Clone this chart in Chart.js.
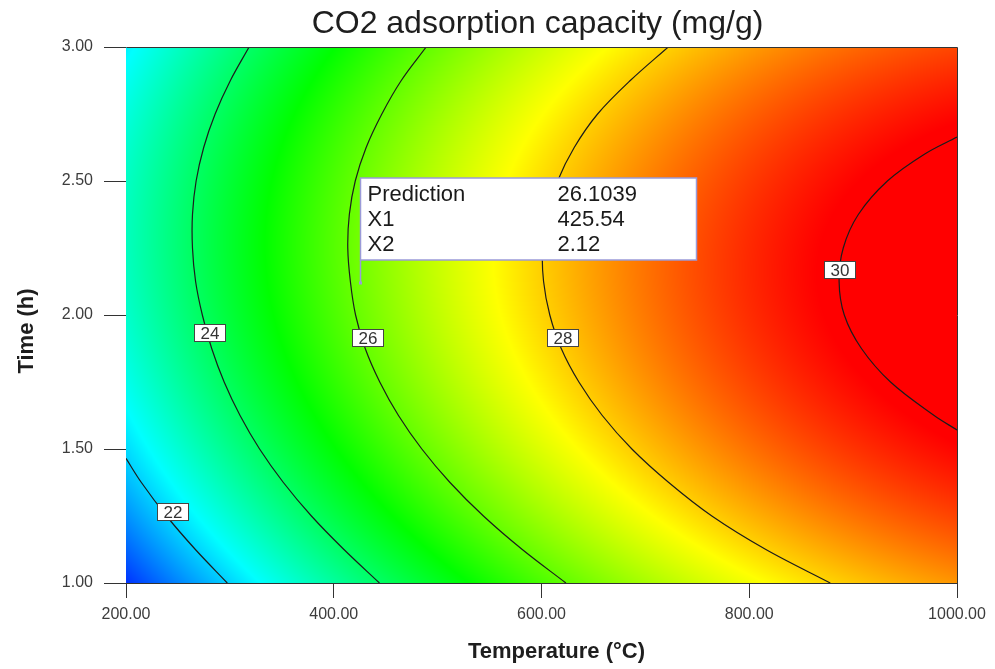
<!DOCTYPE html>
<html>
<head>
<meta charset="utf-8">
<title>CO2 adsorption capacity contour</title>
<script src="https://cdn.jsdelivr.net/npm/chart.js@4.4.1/dist/chart.umd.min.js"></script>
<style>
  html, body { margin: 0; padding: 0; background: #ffffff; }
  #wrap { width: 995px; height: 669px; }
</style>
</head>
<body>
<div id="wrap"><canvas id="contour" width="995" height="669"></canvas></div>
<script>
// ---- Data -----------------------------------------------------------------
// Axis ticks: temperature (°C) and time (h)
const temperatureTicks = [200, 400, 600, 800, 1000];
const timeTicks = [1.00, 1.50, 2.00, 2.50, 3.00];

// Predicted CO2 adsorption capacity (mg/g) at each temperature tick, one row per time tick
const capacityAt1_0h = [20.48, 23.42, 25.74, 27.44, 28.52];
const capacityAt1_5h = [22.10, 24.97, 27.22, 28.85, 29.86];
const capacityAt2_0h = [22.95, 25.75, 27.93, 29.49, 30.43];
const capacityAt2_5h = [23.02, 25.75, 27.86, 29.36, 30.23];
const capacityAt3_0h = [22.32, 24.98, 27.02, 28.45, 29.25];

// Contour levels and their traced paths as [temperature, time]
const contourLevels = [22, 24, 26, 28, 30];
const contour22 = [[200, 1.465], [214.8, 1.375], [239, 1.25], [266.8, 1.125], [297.5, 1.0]];
const contour24 = [[318.5, 3.0], [300.5, 2.875], [285.8, 2.75], [274.8, 2.625], [267.5, 2.5], [264, 2.375],
                   [264, 2.25], [267, 2.125], [273.5, 2.0], [282.5, 1.875], [294.5, 1.75], [309.8, 1.625],
                   [328.6, 1.5], [351.5, 1.375], [378.5, 1.25], [409.8, 1.125], [444, 1.0]];
const contour26 = [[489, 3.0], [465, 2.875], [446.3, 2.75], [431.2, 2.625], [420.7, 2.5], [415, 2.375],
                   [413.5, 2.25], [416, 2.125], [421, 2.0], [430.3, 1.875], [444.3, 1.75], [462.3, 1.625],
                   [484.8, 1.5], [511.9, 1.375], [544.1, 1.25], [581.5, 1.125], [623.5, 1.0]];
const contour28 = [[722, 3.0], [685.5, 2.875], [654, 2.75], [631.5, 2.625], [615.5, 2.5], [605.5, 2.375],
                   [601, 2.25], [602, 2.125], [608, 2.0], [619, 1.875], [636, 1.75], [658.5, 1.625],
                   [687, 1.5], [722.5, 1.375], [764, 1.25], [816, 1.125], [878, 1.0]];
const contour30 = [[1000, 2.664], [968.6, 2.6], [933, 2.5], [905, 2.375], [890.5, 2.25], [886.5, 2.125],
                   [891.5, 2.0], [908, 1.875], [936, 1.75], [978, 1.625], [1000, 1.571]];
// Where each level's value tag sits, [temperature, time]
const contourTagAt = [[245.2, 1.265], [280.9, 1.933], [432.9, 1.914], [620.6, 1.914], [887.2, 2.168]];

// Flagged point and its predicted response
const predictionX1 = 425.54;
const predictionX2 = 2.12;
const predictionValue = 26.1039;

// ---- Rendering ------------------------------------------------------------
const FONT = "'Liberation Sans', Arial, Helvetica, sans-serif";
Chart.defaults.font.family = FONT;

const contourPaths = [contour22, contour24, contour26, contour28, contour30];
const capacityRows = [capacityAt1_0h, capacityAt1_5h, capacityAt2_0h, capacityAt2_5h, capacityAt3_0h];

// Blue -> cyan -> green -> yellow -> red colour ramp for the response
const rampValues = [20.0, 22.45, 25.0, 27.55, 29.9];
const rampColors = [[0, 0, 255], [0, 255, 255], [0, 255, 0], [255, 255, 0], [255, 0, 0]];
function rampColor(v) {
  if (v <= rampValues[0]) return rampColors[0];
  for (let k = 1; k < rampValues.length; k++) {
    if (v <= rampValues[k]) {
      const f = (v - rampValues[k - 1]) / (rampValues[k] - rampValues[k - 1]);
      const a = rampColors[k - 1], b = rampColors[k];
      return [a[0] + (b[0] - a[0]) * f, a[1] + (b[1] - a[1]) * f, a[2] + (b[2] - a[2]) * f];
    }
  }
  return rampColors[rampColors.length - 1];
}

// Grid padded by one node on every side (quadratic end condition) for bicubic shading
function padRow(r) {
  const n = r.length;
  return [3 * r[0] - 3 * r[1] + r[2], ...r, 3 * r[n - 1] - 3 * r[n - 2] + r[n - 3]];
}
function paddedGrid(rows) {
  const pr = rows.map(padRow);
  const m = pr.length, lo = [], hi = [];
  for (let i = 0; i < pr[0].length; i++) {
    lo.push(3 * pr[0][i] - 3 * pr[1][i] + pr[2][i]);
    hi.push(3 * pr[m - 1][i] - 3 * pr[m - 2][i] + pr[m - 3][i]);
  }
  return [lo, ...pr, hi];
}
function cubicWeights(s) {
  const s2 = s * s, s3 = s2 * s;
  return [0.5 * (-s + 2 * s2 - s3), 0.5 * (2 - 5 * s2 + 3 * s3), 0.5 * (s + 4 * s2 - 3 * s3), 0.5 * (s3 - s2)];
}
function locate(v, ticks) {
  const n = ticks.length, step = (ticks[n - 1] - ticks[0]) / (n - 1);
  const u = Math.max(0, Math.min(n - 1, (v - ticks[0]) / step));
  const i = Math.min(n - 2, Math.floor(u));
  return { i, w: cubicWeights(u - i) };
}

// Shaded response surface, painted under the contour lines
const surfacePlugin = {
  id: 'surface',
  beforeDatasetsDraw(chart) {
    const { ctx, chartArea, scales } = chart;
    const left = Math.round(chartArea.left), top = Math.round(chartArea.top);
    const w = Math.round(chartArea.right) - left, h = Math.round(chartArea.bottom) - top;
    const G = paddedGrid(capacityRows);
    const cols = [], rows = [];
    for (let i = 0; i < w; i++) cols.push(locate(scales.x.getValueForPixel(left + i + 0.5), temperatureTicks));
    for (let j = 0; j < h; j++) rows.push(locate(scales.y.getValueForPixel(top + j + 0.5), timeTicks));
    const img = ctx.createImageData(w, h);
    const d = img.data;
    for (let j = 0; j < h; j++) {
      const r = rows[j];
      for (let i = 0; i < w; i++) {
        const c = cols[i];
        let v = 0;
        for (let a = 0; a < 4; a++) {
          const g = G[r.i + a];
          v += r.w[a] * (c.w[0] * g[c.i] + c.w[1] * g[c.i + 1] + c.w[2] * g[c.i + 2] + c.w[3] * g[c.i + 3]);
        }
        const col = rampColor(v);
        const p = (j * w + i) * 4;
        d[p] = col[0]; d[p + 1] = col[1]; d[p + 2] = col[2]; d[p + 3] = 255;
      }
    }
    const off = document.createElement('canvas');
    off.width = w; off.height = h;
    off.getContext('2d').putImageData(img, 0, 0);
    ctx.drawImage(off, left, top);
  }
};

// Frame, contour value tags, prediction flag and titles
const overlayPlugin = {
  id: 'overlay',
  afterDatasetsDraw(chart) {
    const { ctx, chartArea, scales } = chart;
    const { x, y } = scales;
    ctx.save();

    // top and right edges of the plot frame
    ctx.strokeStyle = '#333333';
    ctx.lineWidth = 1;
    ctx.beginPath();
    ctx.moveTo(Math.round(chartArea.left) + 0.5, Math.round(chartArea.top) + 0.5);
    ctx.lineTo(Math.round(chartArea.right) + 0.5, Math.round(chartArea.top) + 0.5);
    ctx.lineTo(Math.round(chartArea.right) + 0.5, Math.round(chartArea.bottom) + 0.5);
    ctx.stroke();

    // value tags on the contour lines
    ctx.font = '17px ' + FONT;
    ctx.textAlign = 'center';
    ctx.textBaseline = 'alphabetic';
    contourLevels.forEach((lv, k) => {
      const cx = Math.round(x.getPixelForValue(contourTagAt[k][0]));
      const cy = Math.round(y.getPixelForValue(contourTagAt[k][1]));
      ctx.fillStyle = '#ffffff';
      ctx.fillRect(cx - 16, cy - 9, 32, 18);
      ctx.strokeStyle = '#444444';
      ctx.strokeRect(cx - 15.5, cy - 8.5, 31, 17);
      ctx.fillStyle = '#333333';
      ctx.fillText(String(lv), cx, cy + 6);
    });

    // prediction flag
    const px = Math.round(x.getPixelForValue(predictionX1)) + 0.5;
    const py = Math.round(y.getPixelForValue(predictionX2));
    const bx = px, by = py - 105, bw = 336, bh = 82;
    ctx.strokeStyle = '#9a9ad8';
    ctx.lineWidth = 1.5;
    ctx.beginPath();
    ctx.moveTo(px, by + bh);
    ctx.lineTo(px, py);
    ctx.stroke();
    ctx.fillStyle = '#9a9ad8';
    ctx.fillRect(px - 1.5, py - 1.5, 3, 3);
    ctx.fillStyle = '#ffffff';
    ctx.fillRect(bx, by, bw, bh);
    ctx.strokeRect(bx, by, bw, bh);
    ctx.fillStyle = '#1a1a1a';
    ctx.font = '22px ' + FONT;
    ctx.textAlign = 'left';
    const rowsText = [['Prediction', predictionValue.toFixed(4)], ['X1', predictionX1.toFixed(2)], ['X2', predictionX2.toFixed(2)]];
    rowsText.forEach((r, k) => {
      ctx.fillText(r[0], bx + 7, by + 23 + k * 25);
      ctx.fillText(r[1], bx + 197, by + 23 + k * 25);
    });

    // chart title and axis titles
    const midX = (chartArea.left + chartArea.right) / 2;
    ctx.fillStyle = '#1e1e1e';
    ctx.textAlign = 'center';
    ctx.font = '32px ' + FONT;
    ctx.fillText('CO2 adsorption capacity (mg/g)', midX - 4, 33);
    ctx.font = 'bold 22px ' + FONT;
    ctx.fillText('Temperature (°C)', midX + 15, 658);
    ctx.translate(33, (chartArea.top + chartArea.bottom) / 2 + 16);
    ctx.rotate(-Math.PI / 2);
    ctx.fillText('Time (h)', 0, 0);
    ctx.restore();
  }
};

new Chart(document.getElementById('contour'), {
  type: 'scatter',
  data: {
    datasets: contourLevels.map((lv, k) => ({
      label: String(lv),
      data: contourPaths[k].map(([T, t]) => ({ x: T, y: t })),
      showLine: true,
      borderColor: '#1c1c1c',
      borderWidth: 1.2,
      pointRadius: 0,
      tension: 0.35,
      fill: false
    }))
  },
  options: {
    responsive: false,
    animation: false,
    events: [],
    layout: { padding: { top: 47, right: 38, left: 0, bottom: 0 } },
    plugins: { legend: { display: false }, tooltip: { enabled: false }, title: { display: false } },
    scales: {
      x: {
        type: 'linear', min: temperatureTicks[0], max: temperatureTicks[temperatureTicks.length - 1],
        afterBuildTicks: s => { s.ticks = temperatureTicks.map(v => ({ value: v })); },
        afterFit: s => { s.height = 86; },
        ticks: { callback: v => Number(v).toFixed(2), font: { size: 16 }, color: '#3c3c3c', padding: 7, maxRotation: 0, autoSkip: false },
        grid: { drawOnChartArea: false, tickLength: 15, tickColor: '#333333', color: '#333333' },
        border: { display: true, color: '#333333', width: 1 }
      },
      y: {
        type: 'linear', min: timeTicks[0], max: timeTicks[timeTicks.length - 1],
        afterBuildTicks: s => { s.ticks = timeTicks.map(v => ({ value: v })); },
        afterFit: s => { s.width = 126; },
        ticks: { callback: v => Number(v).toFixed(2), font: { size: 16 }, color: '#3c3c3c', padding: 11, autoSkip: false },
        grid: { drawOnChartArea: false, tickLength: 22, tickColor: '#333333', color: '#333333' },
        border: { display: true, color: '#333333', width: 1 }
      }
    }
  },
  plugins: [surfacePlugin, overlayPlugin]
});
</script>
</body>
</html>
